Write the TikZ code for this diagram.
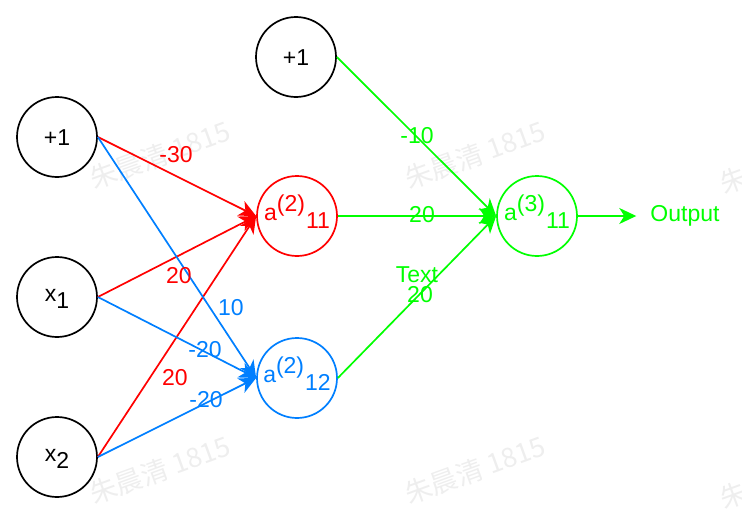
\documentclass[tikz,border=0pt]{standalone}
\usepackage{fontspec}
\setmainfont{Liberation Sans}
\newfontfamily\cjk{Noto Sans CJK SC}
\usetikzlibrary{arrows.meta}

\definecolor{netred}{HTML}{FF0000}
\definecolor{netblue}{HTML}{007FFF}
\definecolor{netgreen}{HTML}{00FF00}
\definecolor{markgray}{HTML}{EEEEEE}

\newcommand{\act}[3]{a\raisebox{9pt}{(#1)}\kern1pt\raisebox{-8pt}{#2#3}}

\begin{document}
\begin{tikzpicture}[x=1pt,y=-1pt]
\useasboundingbox (0,0) rectangle (742,514);

\begin{scope}[every node/.style={text=markgray,rotate=20,font=\cjk\fontsize{27}{27}\selectfont}]
    \node (wa) at (160,155) {朱晨清 1815};
    \node (wb) at (475,155) {朱晨清 1815};
    \node (wc) at (790,160) {朱晨清 1815};
    \node (wd) at (160,470) {朱晨清 1815};
    \node (we) at (475,470) {朱晨清 1815};
    \node (wf) at (790,475) {朱晨清 1815};
\end{scope}

\begin{scope}[every node/.style={circle,draw,line width=1.7pt,minimum size=80pt,inner sep=0pt,
              font=\fontsize{23}{23}\selectfont,text height=12pt,text depth=4pt}]
    \node[text height=16pt,text depth=0pt] (B1) at (57,137) {+1};
    \node (X1) at (57,297) {x\raisebox{-7pt}{1}};
    \node (X2) at (57,457) {x\raisebox{-7pt}{2}};
    \node[text height=16pt,text depth=0pt] (B2) at (296,57) {+1};
    \node[draw=netred,text=netred] (H1) at (297,216) {\act{2}{1}{1}};
    \node[draw=netblue,text=netblue] (H2) at (297,378) {\act{2}{1}{2}};
    \node[draw=netgreen,text=netgreen] (O1) at (537,216) {\act{3}{1}{1}};
\end{scope}

\node[text=netgreen,font=\fontsize{23}{23}\selectfont,inner xsep=14pt] (OUT) at (685,216) {Output};

\begin{scope}[>={Stealth[length=17pt,width=16pt,inset=5pt]},
              every edge/.style={draw,line width=1.7pt}]
    \path [->,netred] (B1.east) edge (H1.west)
                      (X1.east) edge (H1.west)
                      (X2.east) edge (H1.west);
    \path [->,netblue] (B1.east) edge (H2.west)
                       (X1.east) edge (H2.west)
                       (X2.east) edge (H2.west);
    \path [->,netgreen] (B2.east) edge (O1.west)
                        (H1.east) edge (O1.west)
                        (H2.east) edge (O1.west)
                        (O1.east) edge (OUT.west);
\end{scope}

\begin{scope}[every node/.style={font=\fontsize{23}{23}\selectfont,inner sep=0pt}]
    \node[text=netred] (w11) at (176,155) {-30};
    \node[text=netred] (w12) at (179,276) {20};
    \node[text=netred] (w13) at (175,378) {20};
    \node[text=netblue] (w21) at (231,308) {10};
    \node[text=netblue] (w22) at (205,350) {-20};
    \node[text=netblue] (w23) at (206,400) {-20};
    \node[text=netgreen] (w31) at (417,136) {-10};
    \node[text=netgreen] (w32) at (422,215) {20};
    \node[text=netgreen] (t33) at (417,275) {Text};
    \node[text=netgreen] (w33) at (420,295) {20};
\end{scope}
\end{tikzpicture}
\end{document}
